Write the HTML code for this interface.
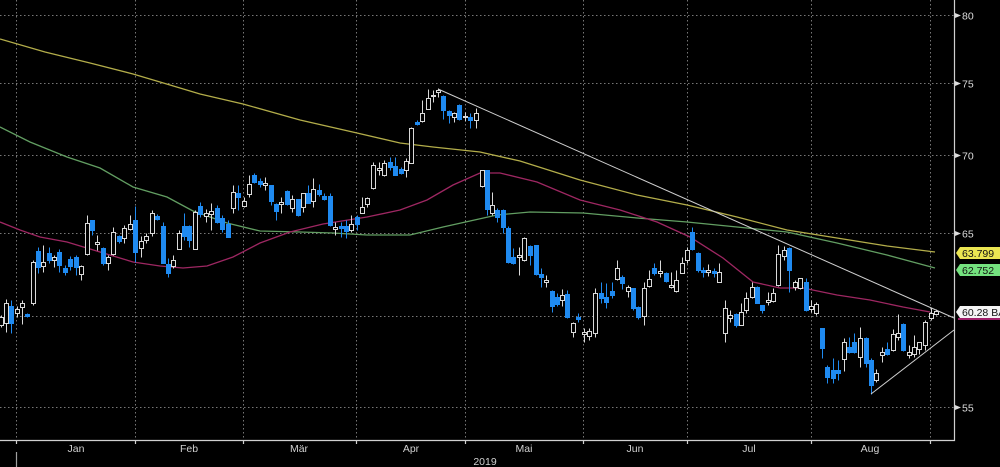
<!DOCTYPE html>
<html><head><meta charset="utf-8"><style>
html,body{margin:0;padding:0;background:#000;}
svg{display:block}
text{font-family:"Liberation Sans",Arial,sans-serif;}
</style></head><body>
<svg width="1000" height="467" viewBox="0 0 1000 467" xmlns="http://www.w3.org/2000/svg">
<rect width="1000" height="467" fill="#000"/>
<g stroke="#777777" stroke-width="1" stroke-dasharray="1.5,2.5" fill="none">
<path d="M0 15.5H954M0 83.5H954M0 155.5H954M0 233.5H954M0 316.5H954M0 407.5H954"/>
<path d="M16.5 0V440M135.5 0V440M243.5 0V440M356.5 0V440M465.5 0V440M583.5 0V440M687.5 0V440M811.5 0V440M930.5 0V440"/>
</g>
<g fill="none" stroke-width="1.3">
<polyline stroke="#b3ad4a" points="0,39 45,52 90,63 133,74 160,82 200,94 243,104 300,120 357,133 400,143 433,147 480,152 520,161 580,180 637,195 687,205 737,217 787,230 837,238 887,246 935,252"/>
<polyline stroke="#629e62" points="0,127 30,142 67,157 100,168 133,187 167,197 193,211 227,223 260,231 300,232 333,233 367,235 410,235 443,227 470,221 497,215 530,212 583,213 637,218 687,222 737,227 787,232 837,243 887,255 935,268"/>
<polyline stroke="#9e2762" points="0,222 20,230 40,237 67,242 100,252 133,262 160,266 183,268 207,266 233,257 260,243 290,232 323,224 367,217 400,210 427,200 453,185 480,173 500,173 537,182 580,200 620,210 657,222 690,237 723,258 753,282 780,288 803,288 837,295 870,300 903,307 930,312"/>
</g>
<g transform="translate(0.5,0.5)">
<path fill="#000" stroke="#d9d9d9" stroke-width="1" d="M1 315V317M1 325V327M-1 317h4V325h-4z
M6 299V303M6 323V332M4 303h4V323h-4z
M17 306V309M17 313V317M15 309h4V313h-4z
M22 300V303M22 307V324M20 303h4V307h-4z
M33 260V262M33 303V305M31 262h4V303h-4z
M43 245V262M43 266V272M41 262h4V266h-4z
M54 255V257M54 260V267M52 257h4V260h-4z
M81 265V266M81 274V280M79 266h4V274h-4z
M87 215V223M87 254V255M85 223h4V254h-4z
M97 235V242M97 244V250M95 242h4V244h-4z
M108 255V257M108 263V270M106 257h4V263h-4z
M113 227V232M113 254V255M111 232h4V254h-4z
M124 225V228M124 238V243M122 228h4V238h-4z
M130 215V224M130 229V230M128 224h4V229h-4z
M141 236V241M141 248V257M139 241h4V248h-4z
M146 233V236M146 240V243M144 236h4V240h-4z
M152 210V213M152 233V236M150 213h4V233h-4z
M173 255V260M173 266V268M171 260h4V266h-4z
M179 230V233M177 233h4V249h-4z
M195 210V212M193 212h4V249h-4z
M206 209V213M206 216V222M204 213h4V216h-4z
M211 203V211M211 214V230M209 211h4V214h-4z
M233 185V192M233 208V213M231 192h4V208h-4z
M244 197V201M244 206V207M242 201h4V206h-4z
M249 175V184M249 194V197M247 184h4V194h-4z
M265 177V183M265 185V190M263 183h4V185h-4z
M281 197V202M281 204V213M279 202h4V204h-4z
M292 195V199M292 208V212M290 199h4V208h-4z
M303 207V212M301 193h4V207h-4z
M313 178V189M313 201V207M311 189h4V201h-4z
M335 222V227M335 229V235M333 227h4V229h-4z
M351 215V224M351 230V232M349 224h4V230h-4z
M362 197V207M360 207h4V213h-4z
M367 197V198M367 204V207M365 198h4V204h-4z
M373 162V165M373 188V189M371 165h4V188h-4z
M379 162V168M379 170V175M377 168h4V170h-4z
M384 160V163M384 175V176M382 163h4V175h-4z
M406 158V161M406 170V177M404 161h4V170h-4z
M411 127V128M409 128h4V163h-4z
M422 100V113M422 121V122M420 113h4V121h-4z
M428 89V98M426 98h4V109h-4z
M433 90V95M433 96V102M431 95h4V96h-4z
M438 88V90M438 92V97M436 90h4V92h-4z
M454 112V113M454 117V122M452 113h4V117h-4z
M465 112V116M465 117V121M463 116h4V117h-4z
M476 108V113M476 120V128M474 113h4V120h-4z
M482 186V187M480 170h4V186h-4z
M492 192V205M492 213V215M490 205h4V213h-4z
M519 247V255M519 257V275M517 255h4V257h-4z
M524 237V238M524 260V261M522 238h4V260h-4z
M546 275V280M546 282V287M544 280h4V282h-4z
M562 289V295M562 300V306M560 295h4V300h-4z
M573 322V323M573 332V337M571 323h4V332h-4z
M584 328V332M584 334V342M582 332h4V334h-4z
M589 328V331M589 336V340M587 331h4V336h-4z
M595 288V293M595 333V337M593 293h4V333h-4z
M617 260V268M617 279V280M615 268h4V279h-4z
M628 285V287M628 291V297M626 287h4V291h-4z
M644 282V288M644 316V325M642 288h4V316h-4z
M649 270V279M649 286V287M647 279h4V286h-4z
M660 260V271M660 273V277M658 271h4V273h-4z
M671 272V285M671 287V288M669 285h4V287h-4z
M676 270V280M676 291V292M674 280h4V291h-4z
M682 257V263M680 263h4V273h-4z
M687 247V250M687 260V263M685 250h4V260h-4z
M708 264V270M708 272V276M706 270h4V272h-4z
M719 263V272M717 272h4V282h-4z
M725 300V308M725 333V342M723 308h4V333h-4z
M730 310V315M730 318V322M728 315h4V318h-4z
M741 303V312M739 312h4V325h-4z
M746 292V298M746 310V313M744 298h4V310h-4z
M752 282V287M752 297V298M750 287h4V297h-4z
M768 292V300M768 302V305M766 300h4V302h-4z
M773 288V293M773 301V302M771 293h4V301h-4z
M778 245V254M778 285V286M776 254h4V285h-4z
M784 246V250M784 256V260M782 250h4V256h-4z
M795 280V282M795 287V290M793 282h4V287h-4z
M800 288V289M798 278h4V288h-4z
M811 300V306M811 309V312M809 306h4V309h-4z
M816 302V304M816 313V315M814 304h4V313h-4z
M844 338V342M844 359V371M842 342h4V359h-4z
M860 327V338M860 357V367M858 338h4V357h-4z
M876 369V373M876 380V382M874 373h4V380h-4z
M882 347V352M882 355V362M880 352h4V355h-4z
M893 329V334M893 350V351M891 334h4V350h-4z
M898 314V333M898 337V340M896 333h4V337h-4z
M909 345V352M909 355V358M907 352h4V355h-4z
M914 335V347M914 354V357M912 347h4V354h-4z
M919 349V354M917 342h4V349h-4z
M925 320V322M925 345V350M923 322h4V345h-4z
M931 307V313M931 318V320M929 313h4V318h-4z
M936 309V311M936 314V315M934 311h4V314h-4z"/>
<path fill="#1f8af0" stroke="#1f8af0" stroke-width="1" d="M11 300V333M9 306h4V323h-4z
M27 313V317M25 314h4V316h-4z
M38 247V273M36 251h4V267h-4z
M49 247V263M47 253h4V260h-4z
M59 249V272M57 252h4V265h-4z
M65 265V275M63 268h4V272h-4z
M70 256V270M68 259h4V266h-4z
M76 255V275M74 257h4V267h-4z
M92 220V235M90 220h4V230h-4z
M103 247V265M101 248h4V263h-4z
M119 235V243M117 236h4V241h-4z
M135 206V262M133 220h4V252h-4z
M157 214V220M155 216h4V219h-4z
M163 222V263M161 226h4V263h-4z
M168 258V277M166 264h4V273h-4z
M184 213V240M182 226h4V236h-4z
M189 225V247M187 226h4V240h-4z
M200 202V217M198 206h4V214h-4z
M217 205V223M215 208h4V222h-4z
M222 215V232M220 218h4V229h-4z
M228 220V237M226 224h4V237h-4z
M238 185V210M236 193h4V197h-4z
M254 173V183M252 175h4V182h-4z
M260 178V187M258 181h4V184h-4z
M271 185V205M269 185h4V201h-4z
M276 203V220M274 204h4V211h-4z
M287 190V205M285 191h4V204h-4z
M298 199V216M296 199h4V215h-4z
M308 185V203M306 193h4V203h-4z
M319 184V196M317 190h4V194h-4z
M324 193V200M322 196h4V199h-4z
M330 193V226M328 196h4V225h-4z
M341 222V237M339 226h4V228h-4z
M346 220V238M344 226h4V231h-4z
M357 215V230M355 217h4V224h-4z
M390 157V170M388 162h4V167h-4z
M395 157V175M393 166h4V175h-4z
M401 167V174M399 169h4V173h-4z
M417 120V125M415 122h4V124h-4z
M443 95V119M441 96h4V110h-4z
M449 110V123M447 111h4V115h-4z
M459 104V120M457 105h4V119h-4z
M470 113V128M468 117h4V120h-4z
M487 170V215M485 170h4V209h-4z
M497 208V222M495 210h4V217h-4z
M503 209V233M501 210h4V227h-4z
M508 226V263M506 228h4V262h-4z
M513 248V264M511 257h4V263h-4z
M530 245V265M528 246h4V255h-4z
M536 245V275M534 245h4V274h-4z
M541 268V287M539 274h4V277h-4z
M552 290V312M550 291h4V306h-4z
M557 293V306M555 297h4V304h-4z
M567 290V318M565 294h4V317h-4z
M578 313V322M576 317h4V319h-4z
M601 282V303M599 293h4V298h-4z
M606 283V308M604 297h4V302h-4z
M612 282V298M610 291h4V295h-4z
M622 275V289M620 277h4V283h-4z
M633 288V310M631 288h4V308h-4z
M638 306V319M636 307h4V317h-4z
M654 263V275M652 268h4V273h-4z
M666 272V282M664 273h4V281h-4z
M692 227V250M690 232h4V249h-4z
M698 252V272M696 253h4V270h-4z
M703 267V277M701 270h4V272h-4z
M714 268V277M712 271h4V273h-4z
M736 313V327M734 314h4V325h-4z
M757 286V303M755 287h4V303h-4z
M762 305V313M760 305h4V310h-4z
M789 247V292M787 248h4V270h-4z
M806 278V311M804 282h4V310h-4z
M822 328V358M820 328h4V348h-4z
M827 365V383M825 367h4V377h-4z
M833 358V383M831 370h4V378h-4z
M838 360V380M836 370h4V373h-4z
M849 337V353M847 347h4V352h-4z
M854 333V353M852 342h4V352h-4z
M866 337V367M864 338h4V363h-4z
M871 358V394M869 360h4V385h-4z
M887 342V355M885 349h4V354h-4z
M903 323V351M901 324h4V350h-4z"/>
</g>
<g stroke="#d0d0d0" stroke-width="1" fill="none">
<line x1="438" y1="89" x2="954" y2="318"/>
<line x1="871" y1="394" x2="954" y2="330"/>
</g>
<g stroke="#d0d0d0" stroke-width="1.2" fill="none">
<path d="M954.5 0V440.5H0"/>
<path d="M16.5 440V444M135.5 440V444M243.5 440V444M356.5 440V444M465.5 440V444M583.5 440V444M687.5 440V444M811.5 440V444M930.5 440V444"/>
<path d="M16.5 452V467" stroke="#a0a0a0"/>
</g>
<g fill="#dcdcdc">
<polygon points="955,13 961,15.5 955,18"/>
<polygon points="955,81 961,83.5 955,86"/>
<polygon points="955,153 961,155.5 955,158"/>
<polygon points="955,231 961,233.5 955,236"/>
<polygon points="955,405 961,407.5 955,410"/>
</g>
<g fill="#dcdcdc" font-size="10.5">
<text x="962" y="19.5">80</text>
<text x="962" y="87.5">75</text>
<text x="962" y="159.5">70</text>
<text x="962" y="237.5">65</text>
<text x="962" y="411.5">55</text>
</g>
<polygon points="956,253 960,247 1000,247 1000,259 960,259" fill="#ebe652"/>
<text x="962" y="257" font-size="10.5" fill="#111">63.799</text>
<polygon points="956,270 960,264 1000,264 1000,276 960,276" fill="#74e27f"/>
<text x="962" y="274" font-size="10.5" fill="#111">62.752</text>
<polygon points="956,312 960,306 1000,306 1000,318 960,318" fill="#f4f4f4"/>
<rect x="958" y="318" width="42" height="2" fill="#a0206a"/>
<text x="962" y="316" font-size="10.5" fill="#111">60.28 BA</text>
<g fill="#d0d0d0" font-size="10.5" text-anchor="middle">
<text x="76" y="452">Jan</text>
<text x="189" y="452">Feb</text>
<text x="299" y="452">Mär</text>
<text x="411" y="452">Apr</text>
<text x="524" y="452">Mai</text>
<text x="635" y="452">Jun</text>
<text x="749" y="452">Jul</text>
<text x="870" y="452">Aug</text>
<text x="485" y="465">2019</text>
</g>
</svg>
</body></html>
